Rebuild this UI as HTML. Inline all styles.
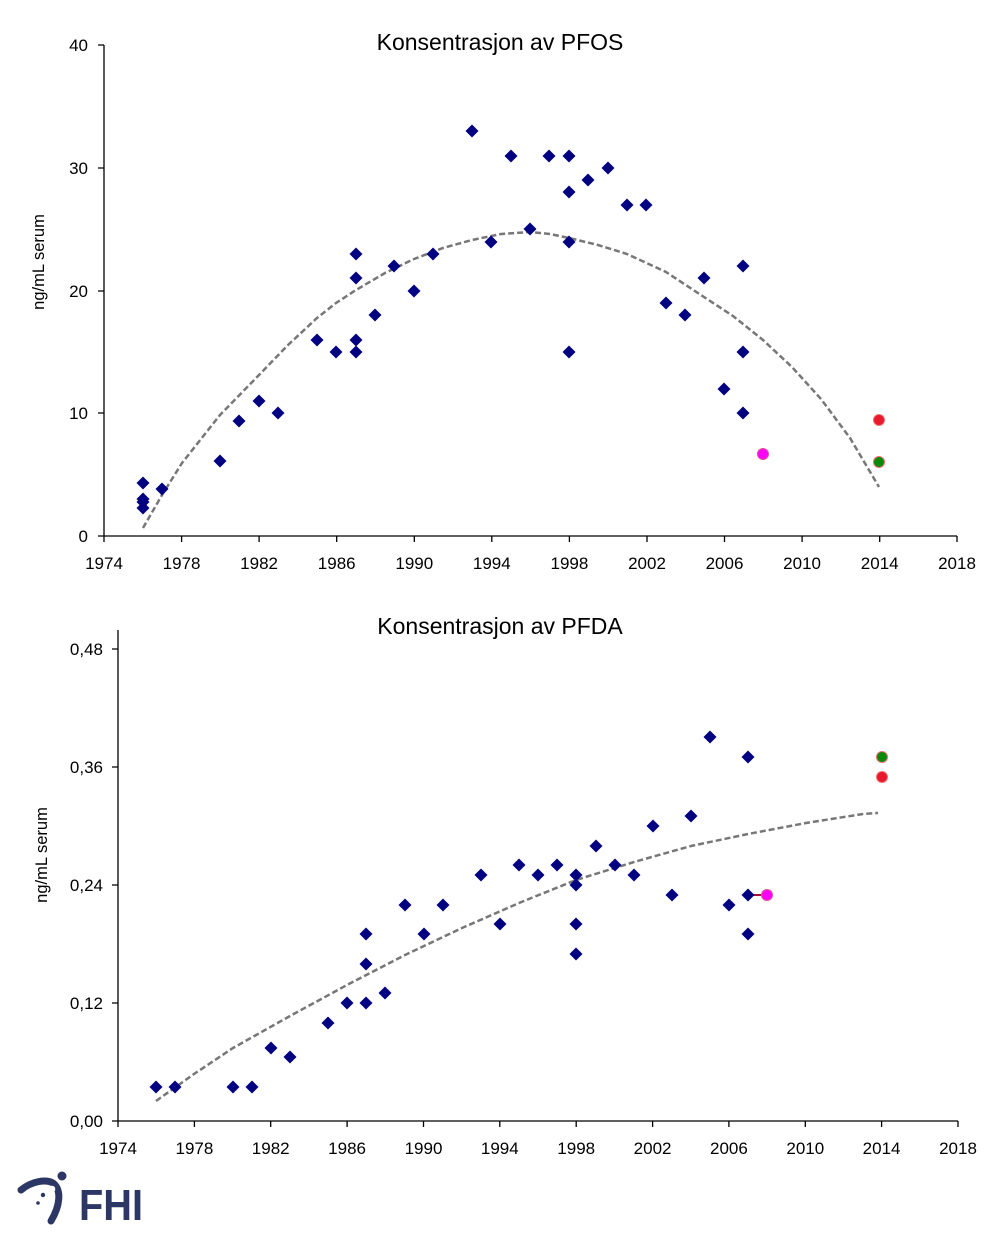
<!DOCTYPE html>
<html><head><meta charset="utf-8"><style>
html,body{margin:0;padding:0;background:#fff}
svg text{font-family:"Liberation Sans",sans-serif;fill:#000}
</style></head><body>
<svg width="1000" height="1238" viewBox="0 0 1000 1238" xmlns="http://www.w3.org/2000/svg">
<defs><path id="d" d="M0,-6.5L6.5,0L0,6.5L-6.5,0Z" fill="#000080"/></defs>
<!-- Chart 1 -->
<text x="500" y="50" font-size="23" text-anchor="middle">Konsentrasjon av PFOS</text>
<g stroke="#000" stroke-width="1.3" fill="none">
<path d="M104,45V536H957"/>
<path d="M98,45H104M98,168H104M98,291H104M98,413H104M98,536H104"/>
<path d="M104,536v6M181.6,536v6M259.1,536v6M336.7,536v6M414.3,536v6M491.8,536v6M569.4,536v6M647,536v6M724.5,536v6M802.1,536v6M879.7,536v6M957,536v6"/>
</g>
<g font-size="17" text-anchor="end">
<text x="88" y="51">40</text><text x="88" y="174">30</text><text x="88" y="297">20</text><text x="88" y="419">10</text><text x="88" y="542">0</text>
</g>
<g font-size="17" text-anchor="middle">
<text x="104" y="569">1974</text><text x="181.6" y="569">1978</text><text x="259.1" y="569">1982</text><text x="336.7" y="569">1986</text><text x="414.3" y="569">1990</text><text x="491.8" y="569">1994</text><text x="569.4" y="569">1998</text><text x="647" y="569">2002</text><text x="724.5" y="569">2006</text><text x="802.1" y="569">2010</text><text x="879.7" y="569">2014</text><text x="957" y="569">2018</text>
</g>
<text transform="translate(44,262) rotate(-90)" font-size="16.5" text-anchor="middle">ng/mL serum</text>
<polyline fill="none" stroke="#777" stroke-width="2.5" stroke-dasharray="6,3" points="143,528 162,495 182,463 220,415 259,375 288,345 317,318 336,303 356,290 385,273 414,259 443,248 472,240 501,234 530,232 550,234 569,238 598,245 627,254 666,272 704,297 733,316 763,340 792,367 821,399 850,438 879,487"/>
<g>
<use href="#d" x="143" y="483"/><use href="#d" x="143" y="499"/><use href="#d" x="143" y="502"/><use href="#d" x="143" y="508"/><use href="#d" x="162" y="489"/><use href="#d" x="220" y="461"/><use href="#d" x="239" y="421"/><use href="#d" x="259" y="401"/><use href="#d" x="278" y="413"/><use href="#d" x="317" y="340"/><use href="#d" x="336" y="352"/><use href="#d" x="356" y="254"/><use href="#d" x="356" y="278"/><use href="#d" x="356" y="340"/><use href="#d" x="356" y="352"/><use href="#d" x="375" y="315"/><use href="#d" x="394" y="266"/><use href="#d" x="414" y="291"/><use href="#d" x="433" y="254"/><use href="#d" x="472" y="131"/><use href="#d" x="491" y="242"/><use href="#d" x="511" y="156"/><use href="#d" x="530" y="229"/><use href="#d" x="549" y="156"/><use href="#d" x="569" y="156"/><use href="#d" x="569" y="192"/><use href="#d" x="569" y="242"/><use href="#d" x="569" y="352"/><use href="#d" x="588" y="180"/><use href="#d" x="608" y="168"/><use href="#d" x="627" y="205"/><use href="#d" x="646" y="205"/><use href="#d" x="666" y="303"/><use href="#d" x="685" y="315"/><use href="#d" x="704" y="278"/><use href="#d" x="724" y="389"/><use href="#d" x="743" y="266"/><use href="#d" x="743" y="352"/><use href="#d" x="743" y="413"/>
</g>
<circle cx="879" cy="420" r="5.5" fill="#e8192c" stroke="#f07070" stroke-width="1"/>
<circle cx="879" cy="462" r="5.5" fill="#0a8a0a" stroke="#f07070" stroke-width="1"/>
<circle cx="763" cy="454" r="5.5" fill="#ff00ff" stroke="#e05090" stroke-width="1"/>

<!-- Chart 2 -->
<text x="500" y="634" font-size="23" text-anchor="middle">Konsentrasjon av PFDA</text>
<g stroke="#000" stroke-width="1.3" fill="none">
<path d="M118,630V1121H958"/>
<path d="M112,649H118M112,767H118M112,885H118M112,1003H118M112,1121H118"/>
<path d="M118,1121v6M194.4,1121v6M270.7,1121v6M347.1,1121v6M423.5,1121v6M499.8,1121v6M576.2,1121v6M652.6,1121v6M728.9,1121v6M805.3,1121v6M881.6,1121v6M958,1121v6"/>
</g>
<g font-size="17" text-anchor="end">
<text x="103" y="655">0,48</text><text x="103" y="773">0,36</text><text x="103" y="891">0,24</text><text x="103" y="1009">0,12</text><text x="103" y="1127">0,00</text>
</g>
<g font-size="17" text-anchor="middle">
<text x="118" y="1154">1974</text><text x="194.4" y="1154">1978</text><text x="270.7" y="1154">1982</text><text x="347.1" y="1154">1986</text><text x="423.5" y="1154">1990</text><text x="499.8" y="1154">1994</text><text x="576.2" y="1154">1998</text><text x="652.6" y="1154">2002</text><text x="728.9" y="1154">2006</text><text x="805.3" y="1154">2010</text><text x="881.6" y="1154">2014</text><text x="958" y="1154">2018</text>
</g>
<text transform="translate(47,855) rotate(-90)" font-size="16.5" text-anchor="middle">ng/mL serum</text>
<polyline fill="none" stroke="#777" stroke-width="2.5" stroke-dasharray="6,3" points="156,1101 194,1074 233,1048 290,1016 347,985 405,955 462,928 519,903 576,880 634,862 691,846 748,834 806,823 863,814 878,813"/>
<line x1="748" y1="895" x2="767" y2="895" stroke="#a0103a" stroke-width="2"/>
<g>
<use href="#d" x="156" y="1087"/><use href="#d" x="175" y="1087"/><use href="#d" x="233" y="1087"/><use href="#d" x="252" y="1087"/><use href="#d" x="271" y="1048"/><use href="#d" x="290" y="1057"/><use href="#d" x="328" y="1023"/><use href="#d" x="347" y="1003"/><use href="#d" x="366" y="934"/><use href="#d" x="366" y="964"/><use href="#d" x="366" y="1003"/><use href="#d" x="385" y="993"/><use href="#d" x="405" y="905"/><use href="#d" x="424" y="934"/><use href="#d" x="443" y="905"/><use href="#d" x="481" y="875"/><use href="#d" x="500" y="924"/><use href="#d" x="519" y="865"/><use href="#d" x="538" y="875"/><use href="#d" x="557" y="865"/><use href="#d" x="576" y="875"/><use href="#d" x="576" y="885"/><use href="#d" x="576" y="924"/><use href="#d" x="576" y="954"/><use href="#d" x="596" y="846"/><use href="#d" x="615" y="865"/><use href="#d" x="634" y="875"/><use href="#d" x="653" y="826"/><use href="#d" x="672" y="895"/><use href="#d" x="691" y="816"/><use href="#d" x="710" y="737"/><use href="#d" x="729" y="905"/><use href="#d" x="748" y="757"/><use href="#d" x="748" y="895"/><use href="#d" x="748" y="934"/>
</g>
<circle cx="767" cy="895" r="5.5" fill="#ff00ff" stroke="#e05090" stroke-width="1"/>
<circle cx="882" cy="757" r="5.5" fill="#0a8a0a" stroke="#f07070" stroke-width="1"/>
<circle cx="882" cy="777" r="5.5" fill="#e8192c" stroke="#f07070" stroke-width="1"/>

<!-- Logo -->
<path d="M21,1190 C32,1181 46,1179 53,1183 C62,1190 60,1206 51,1221" fill="none" stroke="#2c3766" stroke-width="7" stroke-linecap="round"/>
<circle cx="62" cy="1176" r="4.5" fill="#2c3766"/>
<circle cx="43" cy="1195" r="2.2" fill="#2c3766"/><circle cx="38" cy="1203" r="1.8" fill="#2c3766"/>
<circle cx="52" cy="1189" r="3.3" fill="#fff"/>
<text x="79" y="1220" font-size="44" font-weight="bold" style="fill:#2c3766" textLength="64" lengthAdjust="spacingAndGlyphs">FHI</text>
</svg>
</body></html>
